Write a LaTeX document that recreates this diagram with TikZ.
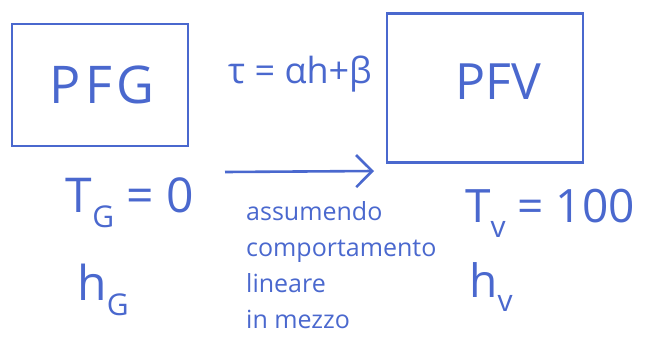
\documentclass[tikz,border=0pt]{standalone}
\usepackage{fontspec}
\setmainfont{Open Sans}
\usetikzlibrary{arrows.meta}
\definecolor{ink}{RGB}{74,104,206}
\newcommand\lowsub[1]{\raisebox{-0.32em}{\fontsize{30}{30}\selectfont #1}}
\begin{document}
\begin{tikzpicture}[x=1pt,y=-1pt,
  box/.style={draw=ink,line width=2.4pt,minimum width=#1,inner sep=0pt},
  lbl/.style={text=ink,inner sep=0pt},
  conn/.style={draw=ink,line width=2.6pt,-{Straight Barb[length=16pt,width=32pt,line width=2.6pt]}}]
\useasboundingbox (0,0) rectangle (652,348);
\node[box=176pt,minimum height=122pt] (pfg) at (100,85) {};
\node[box=196pt,minimum height=149pt] (pfv) at (485,88) {};
\node[lbl,font=\fontsize{52}{56}\selectfont\addfontfeature{LetterSpace=8}] (pfgt) at (102,85) {PFG};
\node[lbl,font=\fontsize{50}{54}\selectfont] (pfvt) at (498,82) {PFV};
\node[lbl,font=\fontsize{36}{40}\selectfont] (eq) at (300,74) {τ = αh+β};
\coordinate (a0) at (225,172);
\coordinate (a1) at (374,171);
\draw[conn] (a0) -- (a1);
\node[lbl,font=\fontsize{48}{52}\selectfont] (tg) at (130,203) {T\lowsub{G} = 0};
\node[lbl,font=\fontsize{48}{52}\selectfont] (hg) at (103,290) {h\lowsub{G}};
\node[lbl,font=\fontsize{46}{52}\selectfont] (tv) at (550,213) {T\lowsub{v} = 100};
\node[lbl,font=\fontsize{46}{52}\selectfont] (hv) at (491,287) {h\lowsub{v}};
\node[lbl,font=\fontsize{25}{36}\selectfont,align=left,anchor=west] (txt) at (246,265)
  {assumendo\\comportamento\\lineare\\in mezzo};
\end{tikzpicture}
\end{document}
